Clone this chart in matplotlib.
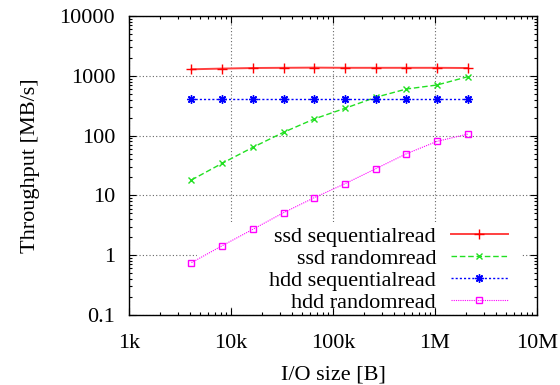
import matplotlib
matplotlib.use("Agg")
import matplotlib.pyplot as plt
from matplotlib.patches import Rectangle
from matplotlib.ticker import FixedLocator, FixedFormatter, LogLocator, NullFormatter

plt.rcParams['font.family'] = ['Liberation Serif', 'DejaVu Serif']

io_size = [4096, 8192, 16384, 32768, 65536, 131072, 262144, 524288, 1048576, 2097152]
ssd_seq = [1285, 1320, 1350, 1360, 1370, 1360, 1360, 1360, 1360, 1350]
ssd_rand = [18.1, 34.4, 63.7, 113.6, 190, 286, 437, 601, 702, 966]
hdd_seq = [405, 405, 405, 405, 405, 405, 405, 405, 405, 405]
hdd_rand = [0.75, 1.44, 2.71, 5.14, 9.16, 15.7, 27.9, 49.7, 80.2, 106]

x_ticks = [1e3, 1e4, 1e5, 1e6, 1e7]
x_labels = ["1k", "10k", "100k", "1M", "10M"]
y_ticks = [0.1, 1, 10, 100, 1000, 10000]
y_labels = ["0.1", "1", "10", "100", "1000", "10000"]

FS = 16

fig = plt.figure(figsize=(5.6, 3.85), dpi=100)
ax = fig.add_axes([129/560, 70/385, 408/560, 299/385])

ax.plot(io_size, ssd_seq, color='#ff4040', lw=1.4, marker='+', ms=7, mew=1.0,
        mec='#ff0000', label='ssd sequentialread', zorder=3)
ax.plot(io_size, ssd_rand, color='#22e022', lw=1.0, ls=(0, (4, 2)), marker='x', ms=5,
        mew=1.0, label='ssd randomread', zorder=3)
ax.plot(io_size, hdd_seq, color='#0000ff', lw=1.0, ls=(0, (1.5, 1.5)), marker=(8, 2, 0),
        ms=6, mew=1.0, label='hdd sequentialread', zorder=3)
ax.plot(io_size, hdd_rand, color='#ff00ff', lw=0.8, ls=(0, (1, 1)), marker='s', ms=5,
        mfc='none', mew=1.0, label='hdd randomread', zorder=3)

ax.set_xscale('log')
ax.set_yscale('log')
ax.set_xlim(1e3, 1e7)
ax.set_ylim(0.1, 10000)

ax.xaxis.set_major_locator(FixedLocator(x_ticks))
ax.xaxis.set_major_formatter(FixedFormatter(x_labels))
ax.yaxis.set_major_locator(FixedLocator(y_ticks))
ax.yaxis.set_major_formatter(FixedFormatter(y_labels))
for axis in (ax.xaxis, ax.yaxis):
    axis.set_minor_locator(LogLocator(base=10, subs=range(2, 10), numticks=20))
    axis.set_minor_formatter(NullFormatter())

ax.tick_params(which='both', direction='in', top=True, right=True, labelsize=FS, width=0.8)
ax.tick_params(which='major', length=5)
ax.tick_params(which='minor', length=2.5)
ax.tick_params(axis='y', pad=10)
ax.tick_params(axis='x', pad=14)

ax.grid(True, which='major', color='0.4', ls=(0, (1, 2)), lw=0.8)
for s in ax.spines.values():
    s.set_linewidth(1.0)
    s.set_zorder(6)

# white key area that hides the grid behind the legend (as gnuplot does)
ax.add_patch(Rectangle((0.167, 0.027), 0.796, 0.284, transform=ax.transAxes,
                       facecolor='white', edgecolor='none', zorder=2))

ax.set_xlabel('I/O size [B]', fontsize=FS, labelpad=9)
ax.set_ylabel('Throughput [MB/s]', fontsize=FS, labelpad=14)

leg = ax.legend(loc='lower right', bbox_to_anchor=(0.957, -0.03), markerfirst=False,
                frameon=False, fontsize=FS, handlelength=2.6, handletextpad=0.65,
                labelspacing=0.06, borderpad=0.0)
leg.set_zorder(5)

fig.savefig('out.png', dpi=100)
